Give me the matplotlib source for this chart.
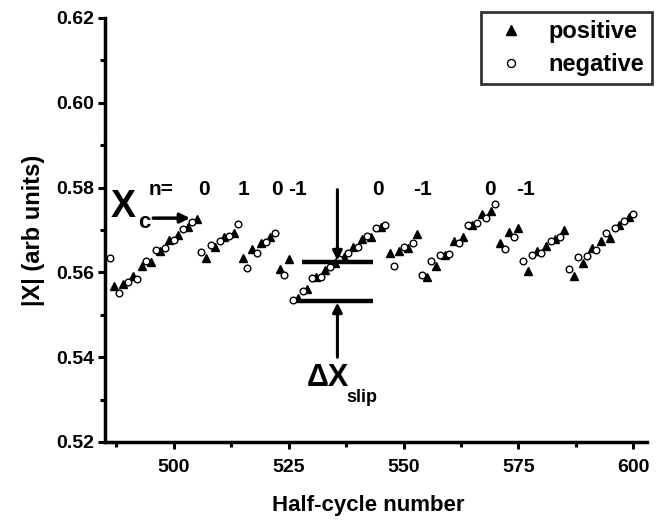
import matplotlib
matplotlib.use("Agg")
import matplotlib.pyplot as plt
from matplotlib.ticker import MultipleLocator, FormatStrFormatter

plt.rcParams['font.family'] = ['Liberation Sans', 'DejaVu Sans']
plt.rcParams['font.weight'] = 'bold'

# positive half-cycles (filled triangles)
pos_n = [487, 489, 491, 493, 495, 497, 499, 501, 503, 505,
         507, 509, 511, 513,
         515, 517, 519, 521,
         523, 525,
         527, 529, 531, 533, 535, 537, 539, 541, 543, 545,
         547, 549, 551, 553,
         555, 557, 559, 561, 563, 565, 567, 569,
         571, 573, 575,
         577, 579, 581, 583, 585,
         587, 589, 591, 593, 595, 597, 599]
pos_v = [0.5568, 0.5573, 0.5592, 0.5615, 0.5625, 0.5651, 0.5676, 0.5688, 0.5706, 0.5725,
         0.5633, 0.5661, 0.5684, 0.5694,
         0.5633, 0.5655, 0.5669, 0.5683,
         0.5607, 0.5631,
         0.5539, 0.5562, 0.5590, 0.5606, 0.5621, 0.5637, 0.5661, 0.5679, 0.5683, 0.5708,
         0.5645, 0.5650, 0.5657, 0.5691,
         0.5588, 0.5615, 0.5641, 0.5674, 0.5684, 0.5712, 0.5737, 0.5745,
         0.5670, 0.5696, 0.5705,
         0.5603, 0.5650, 0.5663, 0.5679, 0.5700,
         0.5592, 0.5621, 0.5657, 0.5674, 0.5680, 0.5712, 0.5730]

# negative half-cycles (open circles)
neg_n = [486, 488, 490, 492, 494, 496, 498, 500, 502, 504,
         506, 508, 510, 512, 514,
         516, 518, 520, 522,
         524,
         526, 528, 530, 532, 534, 536, 538, 540, 542, 544, 546,
         548, 550, 552,
         554, 556, 558, 560, 562, 564, 566, 568, 570,
         572, 574,
         576, 578, 580, 582, 584,
         586, 588, 590, 592, 594, 596, 598, 600]
neg_v = [0.5633, 0.5552, 0.5578, 0.5584, 0.5627, 0.5653, 0.5657, 0.5676, 0.5702, 0.5718,
         0.5649, 0.5665, 0.5673, 0.5686, 0.5713,
         0.5611, 0.5646, 0.5672, 0.5692,
         0.5594,
         0.5535, 0.5556, 0.5586, 0.5588, 0.5612, 0.5631, 0.5645, 0.5661, 0.5686, 0.5704, 0.5712,
         0.5616, 0.5661, 0.5669,
         0.5594, 0.5628, 0.5641, 0.5643, 0.5670, 0.5712, 0.5716, 0.5729, 0.5761,
         0.5655, 0.5684,
         0.5627, 0.5641, 0.5645, 0.5675, 0.5684,
         0.5607, 0.5636, 0.5639, 0.5654, 0.5692, 0.5705, 0.5722, 0.5738]

n_labels = ['0', '1', '0', '-1', '0', '-1', '0', '-1']
n_label_x = [506.5, 515.2, 522.5, 526.9, 544.5, 554.1, 568.8, 576.5]

W, H = 665, 523
fig = plt.figure(figsize=(W / 100, H / 100), dpi=100)
ax = fig.add_axes([105 / W, 1 - 442 / H, (647 - 105) / W, (442 - 18) / H])

ax.plot(pos_n, pos_v, linestyle='none', marker='^', markersize=5.5,
        markerfacecolor='black', markeredgecolor='black', label='positive')
ax.plot(neg_n, neg_v, linestyle='none', marker='o', markersize=4.8,
        markerfacecolor='white', markeredgecolor='black', markeredgewidth=1.0,
        label='negative')

ax.set_xlim(485, 603)
ax.set_ylim(0.52, 0.62)
ax.xaxis.set_major_locator(MultipleLocator(25))
ax.xaxis.set_minor_locator(MultipleLocator(12.5))
ax.yaxis.set_major_locator(MultipleLocator(0.02))
ax.yaxis.set_minor_locator(MultipleLocator(0.01))
ax.yaxis.set_major_formatter(FormatStrFormatter('%.2f'))
for s in ['top', 'right']:
    ax.spines[s].set_visible(False)
for s in ['left', 'bottom']:
    ax.spines[s].set_linewidth(2.5)
ax.tick_params(which='major', direction='out', length=5, width=2.2, labelsize=14, pad=3)
ax.tick_params(which='minor', direction='out', length=3.5, width=2.2)
for lab in ax.get_xticklabels() + ax.get_yticklabels():
    lab.set_fontweight('bold')
ax.tick_params(axis='x', pad=7)

fig.text(368 / W, 1 - 505 / H, 'Half-cycle number', ha='center', va='center',
         fontsize=16, fontweight='bold')
fig.text(34 / W, 1 - 230 / H, '|X| (arb units)', ha='center', va='center',
         rotation=90, fontsize=17, fontweight='bold')

leg = ax.legend(loc='upper left', bbox_to_anchor=(481 / W, 1 - 12 / H),
                bbox_transform=fig.transFigure, borderaxespad=0, frameon=True,
                fancybox=False, edgecolor='black', fontsize=17, markerscale=1.2,
                handlelength=1.89, handletextpad=0.62, borderpad=0.33, labelspacing=0.45)
leg.get_frame().set_linewidth(2.0)
for t in leg.get_texts():
    t.set_fontweight('bold')

# annotations
ax.text(497.3, 0.5795, 'n=', ha='center', va='center', fontsize=15, fontweight='bold')
for lx, lt in zip(n_label_x, n_labels):
    ax.text(lx, 0.5795, lt, ha='center', va='center', fontsize=15, fontweight='bold')

ax.text(486.3, 0.5755, 'X', ha='left', va='center', fontsize=27, fontweight='bold')
ax.text(492.2, 0.5717, 'c', ha='left', va='center', fontsize=16, fontweight='bold')
ax.annotate('', xy=(503.5, 0.5728), xytext=(495.5, 0.5728),
            arrowprops=dict(arrowstyle='-|>', lw=2.5, color='black',
                            mutation_scale=14, shrinkA=0, shrinkB=0))

# Delta X slip marker
ax.plot([527.9, 543.4], [0.5624, 0.5624], color='black', lw=3.2, solid_capstyle='butt')
ax.plot([527.9, 543.4], [0.5533, 0.5533], color='black', lw=3.2, solid_capstyle='butt')
ax.annotate('', xy=(535.6, 0.5628), xytext=(535.6, 0.5795),
            arrowprops=dict(arrowstyle='-|>', lw=2.2, color='black',
                            mutation_scale=14, shrinkA=0, shrinkB=0))
ax.annotate('', xy=(535.6, 0.5529), xytext=(535.6, 0.5400),
            arrowprops=dict(arrowstyle='-|>', lw=2.2, color='black',
                            mutation_scale=14, shrinkA=0, shrinkB=0))
ax.text(533.5, 0.5352, 'ΔX', ha='center', va='center', fontsize=22, fontweight='bold')
ax.text(537.6, 0.5305, 'slip', ha='left', va='center', fontsize=13, fontweight='bold')

fig.savefig('out.png', dpi=100)
